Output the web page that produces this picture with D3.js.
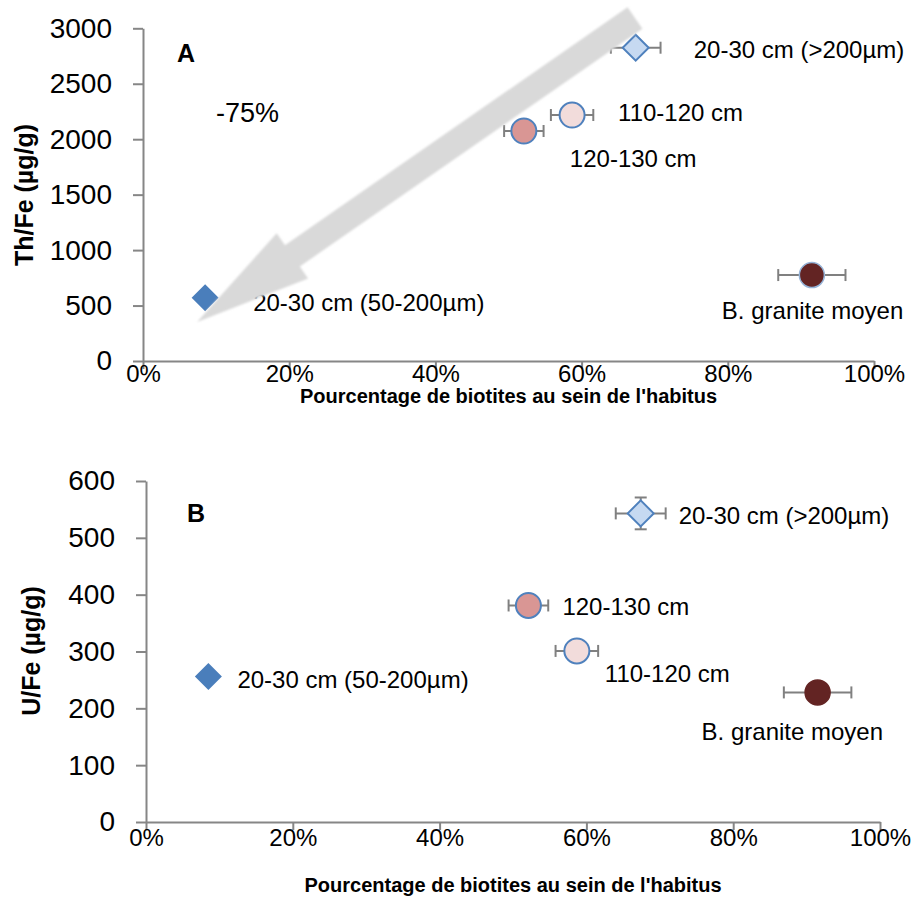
<!DOCTYPE html>
<html>
<head>
<meta charset="utf-8">
<script src="https://cdn.jsdelivr.net/npm/d3@7/dist/d3.min.js"></script>
<style>
  html, body { margin: 0; padding: 0; background: #fff; }
  svg { display: block; font-family: "Liberation Sans", Arial, sans-serif; }
</style>
</head>
<body>
<svg id="chart" width="912" height="900"></svg>
<script>
// ---------- data ----------
const samples = ["20-30 cm (50-200µm)", "120-130 cm", "110-120 cm", "20-30 cm (>200µm)", "B. granite moyen"];
const biotitePct = [8.5, 52.1, 58.7, 67.4, 91.5];      // % biotites in habitus
const biotiteErr = [0, 2.7, 2.9, 3.4, 4.6];             // x error (%)
const thFe = [571, 2074, 2218, 2825, 775];              // Th/Fe (µg/g)
const thFeErr = [0, 0, 0, 0, 0];
const uFe = [256, 381, 301, 543, 228];                  // U/Fe (µg/g)
const uFeErr = [0, 0, 0, 28, 0];
const xTicks = [0, 20, 40, 60, 80, 100];
const thTicks = [0, 500, 1000, 1500, 2000, 2500, 3000];
const uTicks = [0, 100, 200, 300, 400, 500, 600];
const xTitle = "Pourcentage de biotites au sein de l'habitus";
const arrowFrom = [67.3, 3093];   // trend arrow in panel A (data units)
const arrowTo = [7.4, 352];
const arrowText = "-75%";

// ---------- styles ----------
const markerStyle = [
  {shape: "diamond", fill: "#4A7EBB", stroke: "none", sw: 0, r: 13.5},
  {shape: "circle", fill: "#D99694", stroke: "#4F81BD", sw: 2, r: 12.5},
  {shape: "circle", fill: "#F2DCDB", stroke: "#4F81BD", sw: 2, r: 12.5},
  {shape: "diamond", fill: "#C6D9F1", stroke: "#4F81BD", sw: 2, r: 13},
  {shape: "circle", fill: "#632423", stroke: "#95B3D7", sw: 1.5, r: 12.5}
];

const panels = [
  {
    letter: "A", yTitle: "Th/Fe (µg/g)", yVals: thFe, yErr: thFeErr, yTicks: thTicks,
    left: 143, right: 874, top: 28.3, bottom: 361,
    letterPos: [177, 62], yTitlePos: [33, 195], xTickBase: 382, xTitleBase: 403,
    labelOff: [[48, 5], [46, 27], [46, -3], [58, 2], [-90, 35]],
    granStroke: "#95B3D7", arrow: true
  },
  {
    letter: "B", yTitle: "U/Fe (µg/g)", yVals: uFe, yErr: uFeErr, yTicks: uTicks,
    left: 146, right: 880, top: 481, bottom: 822,
    letterPos: [187, 522], yTitlePos: [40, 651], xTickBase: 846, xTitleBase: 892,
    labelOff: [[29, 3], [34, 1], [28, 22], [38, 2], [-116, 39]],
    granStroke: "#632423", arrow: false
  }
];

const svg = d3.select("#chart");
const defs = svg.append("defs");
const blur = defs.append("filter").attr("id", "soft").attr("x", "-10%").attr("y", "-10%").attr("width", "120%").attr("height", "120%");
blur.append("feGaussianBlur").attr("stdDeviation", 0.8);

const axisColor = "#868686";
const errColor = "#808080";

panels.forEach(p => {
  const g = svg.append("g");
  const x = d3.scaleLinear().domain([0, 100]).range([p.left, p.right]);
  const y = d3.scaleLinear().domain([0, p.yTicks[p.yTicks.length - 1]]).range([p.bottom, p.top]);

  // y axis
  const ya = g.append("g").attr("transform", `translate(${p.left},0)`)
    .call(d3.axisLeft(y).tickValues(p.yTicks).tickFormat(d3.format("d"))
      .tickSize(10).tickPadding(21).tickSizeOuter(0));
  ya.select(".domain").attr("stroke", axisColor).attr("stroke-width", 2);
  ya.selectAll(".tick line").attr("stroke", axisColor).attr("stroke-width", 2);
  ya.selectAll(".tick text").attr("font-size", 28).attr("fill", "#000")
    .attr("font-family", "Liberation Sans, Arial, sans-serif");

  // x axis
  const xa = g.append("g").attr("transform", `translate(0,${p.bottom})`)
    .call(d3.axisBottom(x).tickValues(xTicks).tickFormat(d => d + "%").tickSize(8).tickSizeOuter(0));
  xa.select(".domain").attr("stroke", axisColor).attr("stroke-width", 2);
  xa.selectAll(".tick line").attr("stroke", axisColor).attr("stroke-width", 2);
  xa.selectAll(".tick text").attr("font-size", 24).attr("fill", "#000")
    .attr("font-family", "Liberation Sans, Arial, sans-serif")
    .attr("dy", null).attr("y", p.xTickBase - p.bottom);

  // titles
  g.append("text").attr("x", (p.left + p.right) / 2).attr("y", p.xTitleBase)
    .attr("text-anchor", "middle").attr("font-size", 20).attr("font-weight", "bold")
    .text(xTitle);
  g.append("text").attr("transform", `translate(${p.yTitlePos[0]},${p.yTitlePos[1]}) rotate(-90)`)
    .attr("text-anchor", "middle").attr("font-size", 25).attr("font-weight", "bold")
    .text(p.yTitle);
  g.append("text").attr("x", p.letterPos[0]).attr("y", p.letterPos[1])
    .attr("font-size", 25).attr("font-weight", "bold").text(p.letter);

  const idx = d3.range(samples.length);

  // x error bars
  const cap = 6;
  idx.filter(i => biotiteErr[i] > 0).forEach(i => {
    const cy = y(p.yVals[i]);
    const x0 = x(biotitePct[i] - biotiteErr[i]), x1 = x(biotitePct[i] + biotiteErr[i]);
    g.append("line").attr("x1", x0).attr("x2", x1).attr("y1", cy).attr("y2", cy)
      .attr("stroke", errColor).attr("stroke-width", 2);
    [x0, x1].forEach(xx => g.append("line").attr("x1", xx).attr("x2", xx)
      .attr("y1", cy - cap).attr("y2", cy + cap).attr("stroke", errColor).attr("stroke-width", 2));
  });
  // y error bars
  idx.filter(i => p.yErr[i] > 0).forEach(i => {
    const cx = x(biotitePct[i]);
    const y0 = y(p.yVals[i] - p.yErr[i]), y1 = y(p.yVals[i] + p.yErr[i]);
    g.append("line").attr("x1", cx).attr("x2", cx).attr("y1", y0).attr("y2", y1)
      .attr("stroke", errColor).attr("stroke-width", 2);
    [y0, y1].forEach(yy => g.append("line").attr("x1", cx - cap).attr("x2", cx + cap)
      .attr("y1", yy).attr("y2", yy).attr("stroke", errColor).attr("stroke-width", 2));
  });

  // markers
  idx.forEach(i => {
    const s = markerStyle[i];
    const cx = x(biotitePct[i]), cy = y(p.yVals[i]);
    const stroke = i === 4 ? p.granStroke : s.stroke;
    if (s.shape === "circle") {
      g.append("circle").attr("cx", cx).attr("cy", cy).attr("r", s.r)
        .attr("fill", s.fill).attr("stroke", stroke).attr("stroke-width", s.sw);
    } else {
      const r = s.r;
      g.append("path").attr("d", `M${cx},${cy - r}L${cx + r},${cy}L${cx},${cy + r}L${cx - r},${cy}Z`)
        .attr("fill", s.fill).attr("stroke", stroke).attr("stroke-width", s.sw)
        .attr("stroke-linejoin", "miter");
    }
  });

  // point labels
  idx.forEach(i => {
    const cx = x(biotitePct[i]), cy = y(p.yVals[i]);
    g.append("text").attr("x", cx + p.labelOff[i][0]).attr("y", cy + p.labelOff[i][1] + 8.6)
      .attr("font-size", 24).attr("fill", "#000").text(samples[i]);
  });

  // trend arrow
  if (p.arrow) {
    const tx = x(arrowFrom[0]), ty = y(arrowFrom[1]);
    const hx = x(arrowTo[0]), hy = y(arrowTo[1]);
    const len = Math.hypot(hx - tx, hy - ty);
    const ux = (hx - tx) / len, uy = (hy - ty) / len;
    const px = -uy, py = ux;
    const sw = 13, hw = 27.5, hl = 116;
    const bx = hx - ux * hl, by = hy - uy * hl;
    const pts = [
      [tx + px * sw, ty + py * sw],
      [bx + px * sw, by + py * sw],
      [bx + px * hw, by + py * hw],
      [hx, hy],
      [bx - px * hw, by - py * hw],
      [bx - px * sw, by - py * sw],
      [tx - px * sw, ty - py * sw]
    ];
    g.append("path").attr("d", d3.line()(pts) + "Z")
      .attr("fill", "#D9D9D9").attr("filter", "url(#soft)");
    g.append("text").attr("x", 216).attr("y", 122).attr("font-size", 27).text(arrowText);
  }
});
</script>
</body>
</html>
